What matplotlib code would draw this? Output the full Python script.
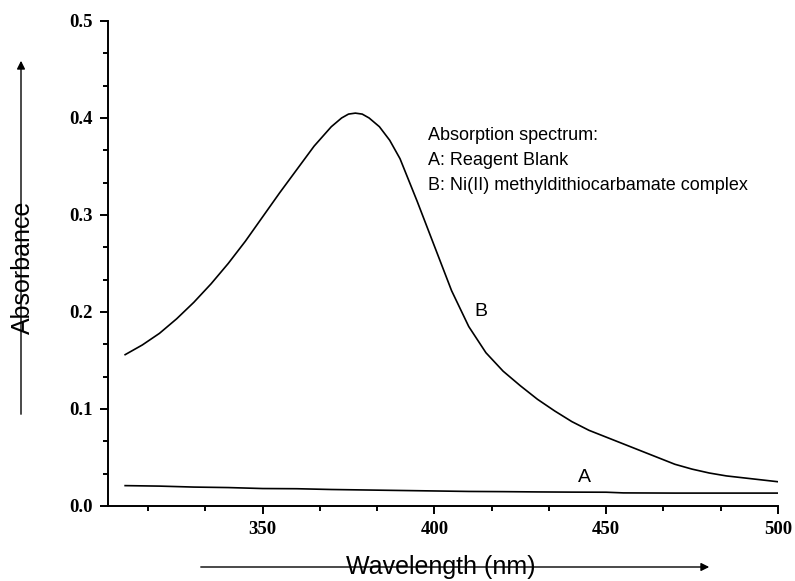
import matplotlib
matplotlib.use("Agg")
import matplotlib.pyplot as plt
from matplotlib.ticker import MultipleLocator, AutoMinorLocator

# spectrum B: Ni(II) methyldithiocarbamate complex
wl_b = [310, 315, 320, 325, 330, 335, 340, 345, 350, 355, 360, 365, 370, 373,
        375, 377, 379, 381, 384, 387, 390, 395, 400, 405, 410, 415, 420, 425,
        430, 435, 440, 445, 450, 455, 460, 465, 470, 475, 480, 485, 490, 495, 500]
abs_b = [0.156, 0.166, 0.178, 0.193, 0.210, 0.229, 0.250, 0.273, 0.298, 0.323,
         0.347, 0.371, 0.391, 0.400, 0.404, 0.405, 0.404, 0.400, 0.391, 0.377,
         0.358, 0.314, 0.268, 0.222, 0.185, 0.158, 0.139, 0.124, 0.110, 0.098,
         0.087, 0.078, 0.071, 0.064, 0.057, 0.050, 0.043, 0.038, 0.034, 0.031,
         0.029, 0.027, 0.025]

# spectrum A: reagent blank
wl_a = [310, 320, 330, 340, 350, 360, 370, 380, 390, 400, 410, 420, 430, 440,
        450, 455, 470, 500]
abs_a = [0.021, 0.0205, 0.0195, 0.019, 0.018, 0.0178, 0.017, 0.0165, 0.016,
         0.0155, 0.015, 0.0148, 0.0145, 0.0143, 0.0142, 0.0135, 0.0133, 0.0133]

note_lines = ["Absorption spectrum:", "A: Reagent Blank",
              "B: Ni(II) methyldithiocarbamate complex"]

fig = plt.figure(figsize=(7.95, 5.81), dpi=100)
ax = fig.add_axes([0.1358, 0.1291, 0.8428, 0.8348])

ax.plot(wl_b, abs_b, color="black", lw=1.2)
ax.plot(wl_a, abs_a, color="black", lw=1.2)

ax.set_xlim(305, 500)
ax.set_ylim(0, 0.5)
ax.xaxis.set_major_locator(MultipleLocator(50))
ax.xaxis.set_minor_locator(AutoMinorLocator(3))
ax.yaxis.set_major_locator(MultipleLocator(0.1))
ax.yaxis.set_minor_locator(AutoMinorLocator(3))
ax.yaxis.set_major_formatter(matplotlib.ticker.FormatStrFormatter("%.1f"))

for s in ["top", "right"]:
    ax.spines[s].set_visible(False)
for s in ["left", "bottom"]:
    ax.spines[s].set_linewidth(1.4)
ax.tick_params(which="major", direction="out", length=6, width=1.4, pad=5)
ax.tick_params(which="minor", direction="out", length=3.6, width=1.4)
for lab in ax.get_xticklabels() + ax.get_yticklabels():
    lab.set_fontfamily("Liberation Serif")
    lab.set_fontweight("bold")
    lab.set_fontsize(13.5)

ax.text(413.5, 0.2, "B", fontsize=14, family="Liberation Sans", ha="center", va="center")
ax.text(443.8, 0.029, "A", fontsize=14, family="Liberation Sans", ha="center", va="center")

for i, line in enumerate(note_lines):
    fig.text(428 / 795, 1 - (135 + 25.5 * i) / 581, line, fontsize=13,
             family="Liberation Sans", ha="left", va="center")

# axis titles with arrows drawn through them
fig.patches.append(matplotlib.patches.FancyArrowPatch(
    (21 / 795, 1 - 417 / 581), (21 / 795, 1 - 58 / 581),
    transform=fig.transFigure, arrowstyle="-|>", mutation_scale=12,
    color="black", lw=1))
fig.patches.append(matplotlib.patches.FancyArrowPatch(
    (198 / 795, 1 - 567 / 581), (712 / 795, 1 - 567 / 581),
    transform=fig.transFigure, arrowstyle="-|>", mutation_scale=12,
    color="black", lw=1))
fig.text(23 / 795, 1 - 267 / 581, "Absorbance", rotation=90, fontsize=18,
         family="Liberation Sans", ha="center", va="center")
fig.text(441 / 795, 1 - 574 / 581, "Wavelength (nm)", fontsize=18,
         family="Liberation Sans", ha="center", va="baseline")

fig.savefig("out.png", dpi=100)
